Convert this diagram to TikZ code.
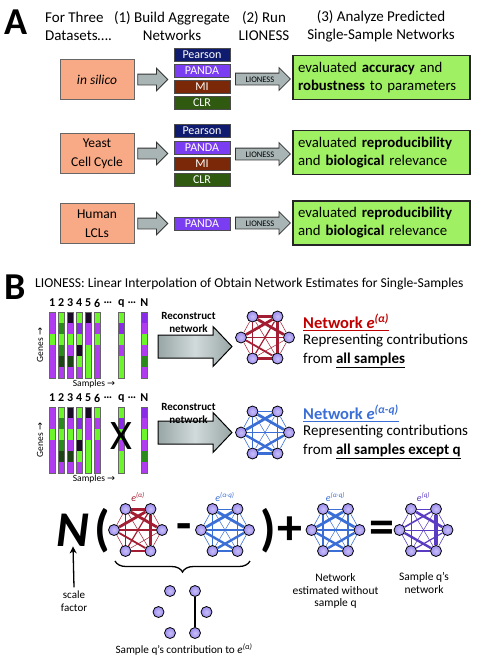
\documentclass[tikz,border=0pt]{standalone}
\usepackage{fontspec}
\setmainfont{Carlito}
\newfontfamily\arrowfont{DejaVu Sans}
\usetikzlibrary{shapes.arrows,decorations.pathreplacing,arrows.meta}

\definecolor{salmon}{HTML}{F8A985}
\definecolor{lime}{HTML}{A0F064}
\definecolor{pearson}{HTML}{0F1B6E}
\definecolor{panda}{HTML}{7A3DF2}
\definecolor{mi}{HTML}{7A2808}
\definecolor{clr}{HTML}{2F5A10}
\definecolor{arrowgrey}{HTML}{A9B5B5}
\definecolor{arrowlite}{HTML}{D2DADA}
\definecolor{arrowdark}{HTML}{98A6A6}
\definecolor{netred}{HTML}{A31E32}
\definecolor{netblue}{HTML}{3B6FD6}
\definecolor{netpurple}{HTML}{5A3CC2}
\definecolor{titlered}{HTML}{C00000}
\definecolor{dotfill}{HTML}{9B8BEF}
\definecolor{pu}{HTML}{B03CF0}
\definecolor{pv}{HTML}{8A2BE8}
\definecolor{gr}{HTML}{6CF52A}
\definecolor{dg}{HTML}{2A8A1C}
\definecolor{vdg}{HTML}{1C4414}
\definecolor{bk}{HTML}{1A0C26}

\newcommand{\fsz}[2]{\fontsize{#1}{#2}\selectfont}

\tikzset{
  srcbox/.style={draw=black!60, line width=0.8pt, fill=salmon, minimum width=74pt, minimum height=40pt, align=center, font=\fsz{13.5}{19}},
  algbox/.style={draw=black!70, line width=0.6pt, minimum width=56pt, minimum height=13pt, inner sep=0pt, text=white, font=\fsz{12}{12}},
  resbox/.style={draw=black!85, line width=1.6pt, fill=lime, minimum width=177pt, minimum height=44pt, text width=167pt, align=left, font=\fsz{14.8}{18}},
  blockarrow/.style={single arrow, draw=black!80, fill=arrowgrey, line width=0.8pt, inner xsep=0pt, inner ysep=5pt, single arrow head extend=6pt, minimum height=30pt, anchor=tail},
  lionarrow/.style={single arrow, draw=black!80, fill=arrowgrey, line width=0.8pt, inner xsep=1pt, inner ysep=2.5pt, text height=6pt, text depth=0pt, single arrow head extend=5.5pt, minimum height=55pt, anchor=tail, font=\fsz{8.5}{8.5}},
  shadedarrow/.style={left color=arrowdark, right color=arrowdark, middle color=arrowlite, draw=black, line width=1pt},
  dot/.style={circle, inner sep=0pt, minimum size=11pt, draw=black, line width=0.8pt, shading=radial, inner color=dotfill!55!white, outer color=dotfill},
  op/.style={font=\bfseries\fsz{50}{50}, inner sep=0pt},
  smalltext/.style={font=\fsz{11.5}{12.7}, align=center},
}

% network: name, cx, cy, colour, edge list
\newcommand{\network}[5]{%
  \foreach \i/\dx/\dy in {1/-12.5/-21,2/12.5/-21,3/24/0,4/12.5/21,5/-12.5/21,6/-24/0}
    \node[dot] (#1\i) at ({#2+(\dx)},{#3+(\dy)}) {};
  \foreach \a/\b/\w in #5
    \draw[#4, line width=\w pt] (#1\a) -- (#1\b);
}

% reconstruct arrow: name, centre y
\newcommand{\bigarrow}[2]{%
  \coordinate (#1) at (158,#2);
  \shade[shadedarrow] (158,{#2-11.5}) -- (213,{#2-11.5}) -- (213,{#2-20}) -- (232,#2)
    -- (213,{#2+20}) -- (213,{#2+11.5}) -- (158,{#2+11.5}) -- cycle;
}

% heatmap of samples, top edge at #1
\newcommand{\heatmap}[1]{%
  \foreach \x/\cols in {49/{pu,pu,gr,pu,pu,pu},58/{gr,dg,gr,dg,vdg,pu},67/{bk,pu,gr,pu,vdg,pu},76/{gr,pv,gr,bk,gr,pu},85/{bk,pu,pu,gr,gr,gr},94/{gr,pu,gr,pu,pu,pu},118/{gr,pv,gr,pu,gr,gr},141/{pv,pu,gr,pu,dg,pu}}{
    \foreach \col [count=\r] in \cols
      \fill[\col] (\x,{#1+11*(\r-1)}) rectangle ++(6.5,11);
    \draw[black!60, line width=0.5pt] (\x,#1) rectangle ++(6.5,66);
  }
  \foreach \x/\t in {52.25/1,61.25/2,70.25/3,79.25/4,88.25/5,97.25/6,108/{…},121.25/q,132/{…},144.25/N}
    \node[font=\bfseries\fsz{12}{12}, inner sep=0pt] at (\x,{#1-9}) {\t};
  \node[rotate=90, font=\fsz{9.5}{9.5}] at (40,{#1+33}) {Genes {\arrowfont→}};
  \node[font=\fsz{9.5}{9.5}] at (94,{#1+72}) {Samples {\arrowfont→}};
}

\def\rededges{1/2/3,1/3/2.8,2/6/2.8,2/4/3.2,4/5/2.6,6/3/1.4,6/4/1.8,5/2/1.2,1/5/1,1/4/0.5,3/5/0.5,2/3/0.5,3/4/0.5,5/6/0.5,6/1/0.5}
\def\blueedges{1/2/0.6,1/3/2.8,2/6/2.8,6/4/2.4,5/3/2.4,4/5/2.6,6/3/1.2,1/5/1.4,2/4/1.4,1/4/0.5,2/5/0.5,2/3/0.6,3/4/0.6,5/6/0.6,6/1/0.6}
\def\purpleedges{2/4/4,1/3/2.6,2/6/1.6,6/4/2.4,5/3/1.2,4/5/1.4,6/3/1,1/5/0.6,1/2/1,1/4/0.5,2/5/0.5,2/3/0.6,3/4/0.6,5/6/0.6,6/1/0.6}
\def\contribedges{2/4/1.2}

\begin{document}
\begin{tikzpicture}[x=1pt, y=-1pt, font=\fsz{15}{18}]
\useasboundingbox (0,0) rectangle (481,664);

% A
\node[font=\bfseries\fsz{38}{38}, inner sep=0pt] (labA) at (16,22) {A};
\node[anchor=west, align=left, inner sep=0pt] (hdset) at (45,26) {For Three\\Datasets….};
\node[align=center] (hdagg) at (172,26) {(1) Build Aggregate\\Networks};
\node[align=center] (hdrun) at (264,26) {(2) Run\\LIONESS};
\node[align=center] (hdana) at (381,26) {(3) Analyze Predicted\\Single-Sample Networks};

\node[srcbox] (silico) at (97,79.5) {\textit{in silico}};
\node[blockarrow] (agg1) at ([xshift=3pt]silico.east) {};
\node[algbox, fill=pearson] (pearson1) at (202,54.5) {Pearson};
\node[algbox, fill=panda] (panda1) at (202,71) {PANDA};
\node[algbox, fill=mi] (mi1) at (202,87) {MI};
\node[algbox, fill=clr] (clr1) at (202,102.5) {CLR};
\node[lionarrow] (lion1) at (235,79) {LIONESS};
\node[resbox] (res1) at (381.5,77.5) {evaluated \textbf{accuracy} and\\\textbf{robustness} to parameters};

\node[srcbox] (yeast) at (97,153.5) {Yeast\\Cell Cycle};
\node[blockarrow] (agg2) at ([xshift=3pt]yeast.east) {};
\node[algbox, fill=pearson] (pearson2) at (202,131) {Pearson};
\node[algbox, fill=panda] (panda2) at (202,147.5) {PANDA};
\node[algbox, fill=mi] (mi2) at (202,163.5) {MI};
\node[algbox, fill=clr] (clr2) at (202,179.5) {CLR};
\node[lionarrow] (lion2) at (235,154) {LIONESS};
\node[resbox] (res2) at (381.5,152.5) {evaluated \textbf{reproducibility}\\and \textbf{biological} relevance};

\node[srcbox] (human) at (97,223.5) {Human\\LCLs};
\node[blockarrow] (agg3) at ([xshift=3pt]human.east) {};
\node[algbox, fill=panda] (panda3) at (202,223.5) {PANDA};
\node[lionarrow] (lion3) at (235,223) {LIONESS};
\node[resbox] (res3) at (381.5,223) {evaluated \textbf{reproducibility}\\and \textbf{biological} relevance};

% B
\node[font=\bfseries\fsz{38}{38}, inner sep=0pt] (labB) at (15,287) {B};
\node[anchor=west, inner sep=0pt, font=\fsz{13.6}{14}] (titleB) at (35,284) {LIONESS: Linear Interpolation of Obtain Network Estimates for Single-Samples};

\heatmap{312}
\heatmap{407}
\node[font=\fsz{42}{42}, inner sep=0pt] (cross) at (121,436) {X};

\bigarrow{rec1}{346.5}
\node[font=\bfseries\fsz{11}{13}, align=center] (rectxt1) at (188.5,322.5) {Reconstruct\\network};
\bigarrow{rec2}{432.5}
\node[font=\bfseries\fsz{11}{13}, align=center] (rectxt2) at (188.5,413) {Reconstruct\\network};

\network{na}{265}{337.5}{netred}{\rededges}
\network{nb}{265}{432.5}{netblue}{\blueedges}

\node[anchor=west, inner sep=0pt, text=titlered, font=\bfseries\fsz{16.5}{16.5}] (ttla) at (303,322) {\underline{Network \textit{e}\textsuperscript{\textit{(α)}}}};
\node[anchor=west, inner sep=0pt, align=left, font=\fsz{15}{19.5}] (dsca) at (303,351) {Representing contributions\\from \textbf{\underline{all samples}}};
\node[anchor=west, inner sep=0pt, text=netblue, font=\bfseries\fsz{16.5}{16.5}] (ttlb) at (303,413) {\underline{Network \textit{e}\textsuperscript{\textit{(α-q)}}}};
\node[anchor=west, inner sep=0pt, align=left, font=\fsz{15}{19.5}] (dscb) at (303,442) {Representing contributions\\from \textbf{\underline{all samples except q}}};

% equation
\node[font=\bfseries\itshape\fsz{50}{50}, inner sep=0pt] (bigN) at (73,530) {N};
\node[op] (lpar) at (102,531) {(};
\node[op] (minus) at (184.5,532) {-};
\node[op] (rpar) at (268,531) {)};
\node[op] (plus) at (289.5,531) {+};
\node[op] (equal) at (381.5,532) {=};

\network{ea}{138}{530}{netred}{\rededges}
\network{eb}{225}{530}{netblue}{\blueedges}
\network{ec}{335.5}{530}{netblue}{\blueedges}
\network{eq}{423.5}{530}{netpurple}{\purpleedges}

\node[text=netred, font=\itshape\fsz{10}{10}] (lea) at (138,497) {e\textsuperscript{(α)}};
\node[text=netblue, font=\itshape\fsz{10}{10}] (leb) at (225,497) {e\textsuperscript{(α-q)}};
\node[text=netblue, font=\itshape\fsz{10}{10}] (lec) at (335.5,497) {e\textsuperscript{(α-q)}};
\node[text=netpurple, font=\itshape\fsz{10}{10}] (leq) at (423.5,497) {e\textsuperscript{(q)}};

\coordinate (bracel) at (115,561);
\coordinate (bracer) at (250,561);
\draw[decorate, decoration={brace, mirror, amplitude=11pt}, line width=1.3pt] (bracel) -- (bracer);

\node[smalltext, font=\fsz{11}{12.5}] (scale) at (74,601) {scale\\factor};
\draw[line width=1.3pt, -{Stealth[length=7pt,width=7pt]}] (scale.north) -- (bigN.south);

\network{cq}{182.5}{612}{black}{\contribedges}
\node[font=\fsz{11.2}{11.2}] (contrib) at (184,650) {Sample q’s contribution to \textit{e}\textsuperscript{\textit{(α)}}};

\node[smalltext] (without) at (335.5,591) {Network\\estimated without\\sample q};
\node[smalltext] (sampleq) at (424,583) {Sample q’s\\network};
\end{tikzpicture}
\end{document}
